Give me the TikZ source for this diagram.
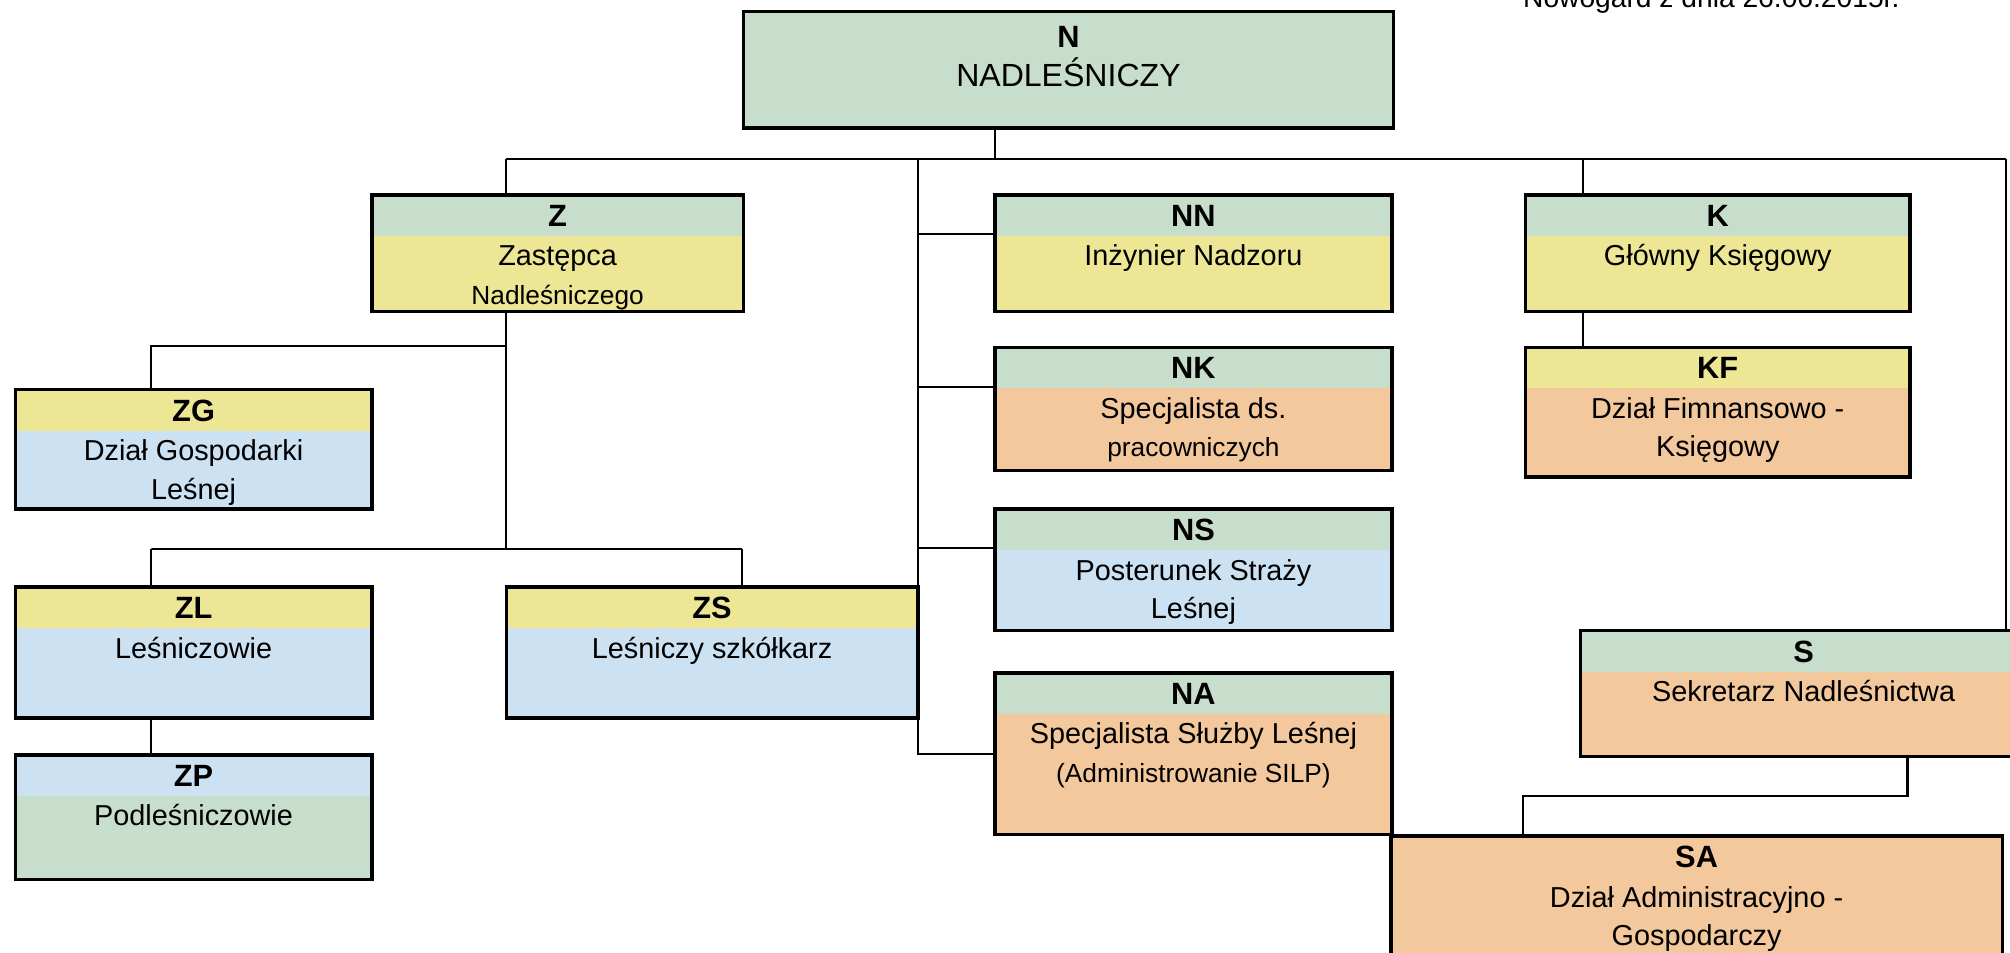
\documentclass[tikz,border=0pt]{standalone}
\usepackage{fontspec}
\setmainfont{Liberation Sans}
\usetikzlibrary{positioning}

\definecolor{bandgreen}{RGB}{200,222,204}
\definecolor{bandyellow}{RGB}{237,230,148}
\definecolor{bandblue}{RGB}{204,226,242}
\definecolor{bandorange}{RGB}{242,200,156}

\newcommand{\code}[1]{{\fontsize{24}{30}\selectfont\bfseries #1}}
\newcommand{\sm}[1]{{\fontsize{20.5}{30}\selectfont #1}}

\tikzset{
  unit/.style={draw, line width=2.8pt, inner sep=0pt},
  band/.style 2 args={fill=#2, path picture={
      \fill[#1] (path picture bounding box.north west) rectangle ([yshift=-32pt]path picture bounding box.north east);}},
  txt/.style={anchor=north, align=center, inner sep=0pt, font=\fontsize{22.5}{30}\selectfont},
  link/.style={line width=1.7pt}
}

\begin{document}
\begin{tikzpicture}[x=1pt, y=1pt]
        \useasboundingbox (0,0) rectangle (1568,-743);

        % boxes
        \node[unit, fill=bandgreen, minimum width=507pt, minimum height=91pt] (N) at (833.5,-54.5) {};
        \node[unit, band={bandgreen}{bandyellow}, minimum width=290pt, minimum height=91pt] (Z) at (435,-197.5) {};
        \node[unit, band={bandgreen}{bandyellow}, minimum width=310pt, minimum height=91pt] (NN) at (931,-197.5) {};
        \node[unit, band={bandgreen}{bandyellow}, minimum width=300pt, minimum height=91pt] (K) at (1340,-197.5) {};
        \node[unit, band={bandyellow}{bandblue}, minimum width=278pt, minimum height=93pt] (ZG) at (151,-350.5) {};
        \node[unit, band={bandgreen}{bandorange}, minimum width=310pt, minimum height=96pt] (NK) at (931,-319) {};
        \node[unit, band={bandyellow}{bandorange}, minimum width=300pt, minimum height=101pt] (KF) at (1340,-321.5) {};
        \node[unit, band={bandgreen}{bandblue}, minimum width=310pt, minimum height=95pt] (NS) at (931,-444.5) {};
        \node[unit, band={bandyellow}{bandblue}, minimum width=278pt, minimum height=102pt] (ZL) at (151,-509) {};
        \node[unit, band={bandyellow}{bandblue}, minimum width=321pt, minimum height=102pt] (ZS) at (555.5,-509) {};
        \node[unit, band={bandgreen}{bandorange}, minimum width=342pt, minimum height=98pt] (S) at (1404,-541) {};
        \node[unit, band={bandgreen}{bandorange}, minimum width=310pt, minimum height=126pt] (NA) at (931,-588) {};
        \node[unit, band={bandblue}{bandgreen}, minimum width=278pt, minimum height=97pt] (ZP) at (151,-637.5) {};
        \node[unit, fill=bandorange, minimum width=477pt, minimum height=100pt] (SA) at (1323.5,-702) {};

        % texts
        \node[txt, below=12.5pt of N.north, font=\fontsize{25}{31}\selectfont] (N-t) {\code{N}\\NADLEŚNICZY};
        \node[txt, below=9pt of Z.north] (Z-t) {\code{Z}\\[1pt]Zastępca\\\sm{Nadleśniczego}};
        \node[txt, below=9pt of NN.north] (NN-t) {\code{NN}\\[1pt]Inżynier Nadzoru};
        \node[txt, below=9pt of K.north] (K-t) {\code{K}\\[1pt]Główny Księgowy};
        \node[txt, below=9pt of ZG.north] (ZG-t) {\code{ZG}\\[1pt]Dział Gospodarki\\Leśnej};
        \node[txt, below=9pt of NK.north] (NK-t) {\code{NK}\\[1pt]Specjalista ds.\\\sm{pracowniczych}};
        \node[txt, below=9pt of KF.north] (KF-t) {\code{KF}\\[1pt]Dział Fimnansowo -\\Księgowy};
        \node[txt, below=9pt of NS.north] (NS-t) {\code{NS}\\[1pt]Posterunek Straży\\Leśnej};
        \node[txt, below=9pt of ZL.north] (ZL-t) {\code{ZL}\\[1pt]Leśniczowie};
        \node[txt, below=9pt of ZS.north] (ZS-t) {\code{ZS}\\[1pt]Leśniczy szkółkarz};
        \node[txt, below=9pt of S.north, xshift=3pt] (S-t) {\code{S}\\[1pt]Sekretarz Nadleśnictwa};
        \node[txt, below=9pt of NA.north] (NA-t) {\code{NA}\\[1pt]Specjalista Służby Leśnej\\\sm{(Administrowanie SILP)}};
        \node[txt, below=9pt of ZP.north] (ZP-t) {\code{ZP}\\[1pt]Podleśniczowie};
        \node[txt, below=9pt of SA.north] (SA-t) {\code{SA}\\[1pt]Dział Administracyjno -\\Gospodarczy};

        \node[anchor=base west, inner sep=0pt, font=\fontsize{22}{26}\selectfont] (date) at (1188,-6) {Nowogard z dnia 26.06.2015r.};

        % connectors
        \coordinate (tL) at (395,-124);
        \coordinate (tM) at (716,-124);
        \coordinate (tN) at (776,-124);
        \coordinate (tK) at (1235,-124);
        \coordinate (tR) at (1565,-124);
        \coordinate (zG) at (118,-270);
        \coordinate (zL) at (118,-428);
        \coordinate (zS) at (579,-428);
        \coordinate (sB) at (1488,-621);
        \coordinate (sA) at (1188,-621);

        \draw[link] (N.south -| tN) -- (tN);
        \draw[link] (tL) -- (tR);
        \draw[link] (tL) -- (Z.north -| tL);
        \draw[link] (tK) -- (K.north -| tK);
        \draw[link] (tR) -- (S.north -| tR);
        \draw[link] (tM) |- ([yshift=-32pt]NN.north west);
        \draw[link] (tM) |- ([yshift=-32pt]NK.north west);
        \draw[link] (tM) |- ([yshift=-32pt]NS.north west);
        \draw[link] (tM) |- (NA.west);
        \draw[link] (Z.south -| tL) |- (zG) -- (ZG.north -| zG);
        \draw[link] (Z.south -| tL) |- (zL) -- (zS);
        \draw[link] (zL) -- (ZL.north -| zL);
        \draw[link] (zS) -- (ZS.north -| zS);
        \draw[link] (ZL.south -| zL) -- (ZP.north -| zL);
        \draw[link] (K.south -| tK) -- (KF.north -| tK);
        \draw[link] (S.south -| sB) -- (sB) -- (sA) -- (SA.north -| sA);
    \end{tikzpicture}
\end{document}
